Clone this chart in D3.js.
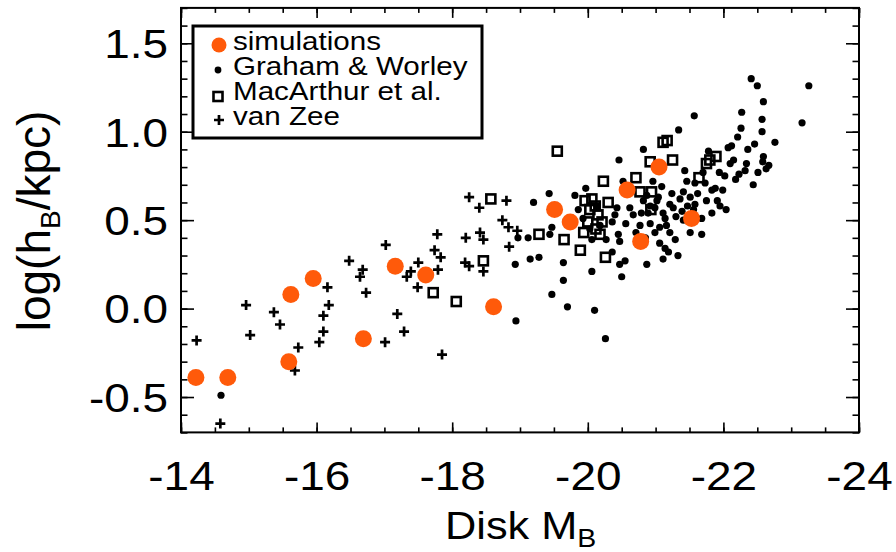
<!DOCTYPE html>
<html><head><meta charset="utf-8">
<script src="https://cdn.jsdelivr.net/npm/d3@7"></script>
<style>
html,body{margin:0;padding:0;background:#fff;}
svg{display:block;}
text{font-family:"Liberation Sans",Arial,Helvetica,sans-serif;fill:#000;}
</style>
</head><body>
<svg id="chart" width="896" height="552"></svg>
<script>
// ---- data: [Disk M_B, log(h_B/kpc)] ----
const simulations = [[-14.22,-0.39],[-14.69,-0.39],[-15.59,-0.30],[-15.62,0.08],[-15.95,0.17],[-16.69,-0.17],[-17.16,0.24],[-17.61,0.19],[-18.61,0.01],[-19.51,0.56],[-19.74,0.49],[-20.58,0.67],[-21.05,0.80],[-20.78,0.38],[-21.53,0.51]];

const grahamWorley = [[-14.59,-0.49],[-18.93,0.25],[-18.94,-0.07],[-18.97,0.40],[-19.12,0.40],[-19.15,0.28],[-19.20,0.60],[-19.28,0.29],[-19.43,0.65],[-19.44,0.42],[-19.47,0.46],[-19.47,0.08],[-19.64,0.26],[-19.64,0.16],[-19.70,0.01],[-19.81,0.64],[-19.97,0.68],[-19.86,0.56],[-19.93,0.51],[-20.03,0.45],[-20.14,0.58],[-20.18,0.47],[-20.06,0.39],[-20.06,0.21],[-20.10,-0.01],[-20.26,-0.17],[-20.43,0.57],[-20.40,0.53],[-20.45,0.42],[-20.47,0.38],[-20.47,0.25],[-20.55,0.27],[-20.50,0.18],[-20.52,0.72],[-20.46,0.84],[-20.56,0.48],[-20.62,0.57],[-20.67,0.53],[-20.77,0.47],[-20.79,0.54],[-20.82,0.61],[-20.87,0.64],[-20.82,0.90],[-20.87,0.25],[-20.89,0.54],[-20.92,0.48],[-20.96,0.72],[-20.99,0.43],[-20.99,0.57],[-21.02,0.61],[-21.06,0.46],[-21.09,0.69],[-21.11,0.54],[-21.11,0.28],[-21.14,0.51],[-21.14,0.34],[-21.16,0.47],[-21.19,0.32],[-21.21,0.43],[-21.21,0.59],[-21.24,0.65],[-21.26,0.57],[-21.33,0.30],[-21.34,1.01],[-21.36,0.62],[-21.39,0.55],[-21.41,0.66],[-21.41,0.50],[-21.43,0.78],[-21.46,0.72],[-21.51,0.63],[-21.56,0.56],[-21.57,1.09],[-21.58,0.71],[-21.58,0.59],[-21.68,0.51],[-21.68,0.42],[-21.70,0.77],[-21.75,0.61],[-21.78,0.89],[-21.83,0.67],[-21.83,0.54],[-21.88,0.68],[-21.94,0.77],[-21.95,0.58],[-22.02,0.75],[-22.04,0.56],[-22.07,0.91],[-22.10,0.82],[-22.12,0.92],[-22.21,0.97],[-22.23,0.76],[-22.26,1.02],[-22.27,1.11],[-22.34,0.82],[-22.41,1.30],[-22.44,0.70],[-22.46,0.93],[-22.50,1.26],[-22.51,0.77],[-22.57,1.07],[-22.57,1.00],[-22.59,1.17],[-22.59,0.86],[-22.58,0.83],[-22.67,0.81],[-22.63,0.79],[-22.76,0.94],[-23.16,1.05],[-23.26,1.26],[-20.92,0.58],[-21.04,0.63],[-21.30,0.52],[-21.47,0.58],[-21.62,0.65],[-21.73,0.71],[-21.91,0.61],[-21.99,0.67],[-22.18,0.73],[-22.32,0.78],[-22.36,0.90],[-22.15,0.84],[-20.71,0.43],[-20.85,0.40],[-21.06,0.37],[-21.29,0.39],[-21.51,0.43],[-20.36,0.49],[-20.27,0.39],[-20.36,0.32]];

const macArthur = [[-18.57,0.62],[-17.72,0.09],[-18.06,0.04],[-18.46,0.27],[-19.55,0.89],[-19.28,0.42],[-19.65,0.39],[-19.89,0.33],[-20.23,0.72],[-20.30,0.60],[-19.96,0.61],[-20.03,0.56],[-20.11,0.58],[-20.15,0.53],[-20.00,0.49],[-20.12,0.45],[-19.94,0.43],[-20.18,0.42],[-20.06,0.62],[-20.21,0.49],[-20.26,0.29],[-20.71,0.74],[-20.77,0.66],[-20.92,0.83],[-21.11,0.94],[-21.17,0.95],[-21.25,0.84],[-20.94,0.66],[-20.93,0.56],[-21.64,0.74],[-21.75,0.82],[-21.89,0.86],[-21.80,0.84]];

const vanZee = [[-14.23,-0.18],[-14.58,-0.65],[-14.96,0.02],[-15.02,-0.15],[-15.37,-0.02],[-15.46,-0.09],[-15.73,-0.22],[-15.68,-0.35],[-16.16,0.12],[-16.18,0.02],[-16.10,-0.04],[-16.10,-0.13],[-16.04,-0.19],[-16.48,0.27],[-16.68,0.22],[-16.64,0.18],[-16.73,0.09],[-17.02,0.36],[-17.01,-0.19],[-17.19,-0.03],[-17.29,-0.13],[-17.33,0.18],[-17.39,0.21],[-17.50,0.26],[-17.49,0.12],[-17.85,-0.26],[-17.78,0.42],[-17.74,0.33],[-17.83,0.29],[-17.79,0.22],[-18.20,0.40],[-18.19,0.26],[-18.25,0.24],[-18.41,0.43],[-18.46,0.39],[-18.46,0.21],[-18.25,0.63],[-18.40,0.57],[-18.80,0.61],[-18.74,0.50],[-18.83,0.46],[-18.84,0.35],[-18.96,0.44]];

const xTickValues = [-14,-16,-18,-20,-22,-24];
const xTickLabels = ["-14","-16","-18","-20","-22","-24"];
const yTickValues = [-0.5,0,0.5,1.0,1.5];
const yTickLabels = ["-0.5","0.0","0.5","1.0","1.5"];
const legendLabels = ["simulations","Graham & Worley","MacArthur et al.","van Zee"];

const ORANGE = "#ff5a0a";
const svg = d3.select("#chart");
const x = d3.scaleLinear().domain([-14,-24]).range([181,859]);
const y = d3.scaleLinear().domain([-0.7,1.7]).range([432.4,7.9]);
const xMinor = d3.range(0,21).map(i => -14 - 0.5*i);
const yMinor = d3.range(0,25).map(i => +(-0.7 + 0.1*i).toFixed(1));

function addAxis(axis, tx, ty){
  const g = svg.append("g").attr("transform",`translate(${tx},${ty})`).call(axis);
  g.select(".domain").remove();
  g.selectAll("line").attr("stroke","#000").attr("stroke-width",1.6);
  g.attr("font-family",null).attr("font-size",null);
  return g;
}
const [x0,x1] = x.range(), [yb,yt] = y.range();
// minor ticks
addAxis(d3.axisBottom(x).tickValues(xMinor).tickSize(-5).tickFormat(""),0,yb);
addAxis(d3.axisTop(x).tickValues(xMinor).tickSize(-5).tickFormat(""),0,yt);
addAxis(d3.axisLeft(y).tickValues(yMinor).tickSize(-6.5).tickFormat(""),x0,0);
addAxis(d3.axisRight(y).tickValues(yMinor).tickSize(-6.5).tickFormat(""),x1,0);
// major ticks
const gb = addAxis(d3.axisBottom(x).tickValues(xTickValues).tickSize(-10).tickPadding(28).tickFormat((d,i)=>xTickLabels[i]),0,yb);
gb.selectAll("text").attr("font-size",41).attr("transform","scale(1.12,1)");
addAxis(d3.axisTop(x).tickValues(xTickValues).tickSize(-10).tickFormat(""),0,yt);
const gl = addAxis(d3.axisLeft(y).tickValues(yTickValues).tickSize(-13).tickPadding(11.6).tickFormat((d,i)=>yTickLabels[i]),x0,0);
gl.selectAll("text").attr("font-size",41).attr("dy","0.35em").attr("transform","scale(1.12,1)");
addAxis(d3.axisRight(y).tickValues(yTickValues).tickSize(-13).tickFormat(""),x1,0);

// frame
svg.append("rect").attr("x",x0).attr("y",yt).attr("width",x1-x0).attr("height",yb-yt)
  .attr("fill","none").attr("stroke","#000").attr("stroke-width",2);

// markers
const plus = "M-5,0H5M0,-5V5";
const plot = svg.append("g");
plot.selectAll(".vz").data(vanZee).join("path").attr("class","vz")
  .attr("d",plus).attr("transform",d=>`translate(${x(d[0])},${y(d[1])})`)
  .attr("stroke","#000").attr("stroke-width",2.7).attr("fill","none");
plot.selectAll(".gw").data(grahamWorley).join("circle").attr("class","gw")
  .attr("cx",d=>x(d[0])).attr("cy",d=>y(d[1])).attr("r",3.6).attr("fill","#000");
plot.selectAll(".ma").data(macArthur).join("rect").attr("class","ma")
  .attr("x",d=>x(d[0])-4.5).attr("y",d=>y(d[1])-4.5).attr("width",9).attr("height",9)
  .attr("fill","none").attr("stroke","#000").attr("stroke-width",2.6);
plot.selectAll(".sim").data(simulations).join("circle").attr("class","sim")
  .attr("cx",d=>x(d[0])).attr("cy",d=>y(d[1])).attr("r",8.5).attr("fill",ORANGE);

// legend
const lg = svg.append("g");
lg.append("rect").attr("x",193).attr("y",26).attr("width",289).attr("height",112)
  .attr("fill","#fff").attr("stroke","#000").attr("stroke-width",3);
const rowsY = [50,75,100,125];
lg.append("circle").attr("cx",219).attr("cy",45).attr("r",7.5).attr("fill",ORANGE);
lg.append("circle").attr("cx",218).attr("cy",70).attr("r",3.4).attr("fill","#000");
lg.append("rect").attr("x",213.5).attr("y",92).attr("width",9).attr("height",9).attr("fill","none").attr("stroke","#000").attr("stroke-width",2.6);
lg.append("path").attr("d",plus).attr("transform","translate(219,120)").attr("stroke","#000").attr("stroke-width",2.7);
legendLabels.forEach((t,i)=>{
  lg.append("text").attr("transform",`translate(233,${rowsY[i]}) scale(1.16,1)`)
    .attr("font-size",25.5).text(t);
});

// axis titles
const yt1 = svg.append("text").attr("transform","translate(50,221) rotate(-90)")
  .attr("text-anchor","middle").attr("font-size",46);
yt1.append("tspan").text("log(h");
yt1.append("tspan").attr("font-size",28).attr("dy",10).text("B");
yt1.append("tspan").attr("dy",-10).text("/kpc)");

const xt = svg.append("text").attr("transform","translate(445,539) scale(1.14,1)")
  .attr("font-size",38);
xt.append("tspan").text("Disk M");
xt.append("tspan").attr("font-size",25).attr("dy",8).text("B");
</script>
</body></html>
